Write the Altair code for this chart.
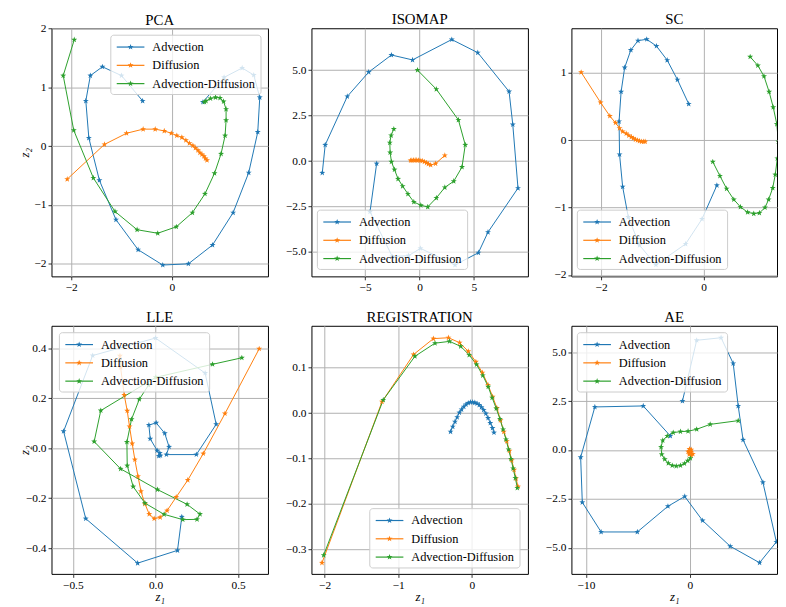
import altair as alt
import pandas as pd

SERIES = ["Advection", "Diffusion", "Advection-Diffusion"]
COLORS = ["#1f77b4", "#ff7f0e", "#2ca02c"]

# ---------------- data ----------------
pca_adv = [(-0.58, 0.77), (-1.00, 1.20), (-1.38, 1.35), (-1.62, 1.20), (-1.71, 0.77), (-1.65, 0.14),
           (-1.44, -0.58), (-1.11, -1.25), (-0.67, -1.76), (-0.18, -2.02), (0.33, -2.00), (0.81, -1.68),
           (1.22, -1.13), (1.53, -0.45), (1.71, 0.24), (1.75, 0.83), (1.63, 1.21), (1.40, 1.33),
           (1.04, 1.17), (0.62, 0.75)]
pca_dif = [(-2.08, -0.56), (-1.34, 0.03), (-0.90, 0.22), (-0.57, 0.29), (-0.33, 0.29), (-0.15, 0.26),
           (-0.01, 0.22), (0.10, 0.18), (0.20, 0.15), (0.28, 0.10), (0.35, 0.05), (0.42, 0.01),
           (0.47, -0.03), (0.52, -0.07), (0.56, -0.11), (0.60, -0.14), (0.64, -0.17), (0.67, -0.21),
           (0.70, -0.24)]
pca_advdif = [(-1.94, 1.81), (-2.16, 1.20), (-1.95, 0.27), (-1.56, -0.54), (-1.13, -1.11), (-0.69, -1.42),
              (-0.28, -1.48), (0.09, -1.37), (0.41, -1.13), (0.66, -0.81), (0.85, -0.46), (0.98, -0.13),
              (1.06, 0.18), (1.08, 0.44), (1.08, 0.63), (1.03, 0.76), (0.96, 0.82), (0.87, 0.83),
              (0.77, 0.81), (0.68, 0.77), (0.65, 0.75)]

iso_adv = [(-3.94, -0.14), (-4.55, -2.79), (-2.5, -5.25), (-1.0, -5.2), (0.09, -4.80), (3.27, -5.71),
           (5.42, -5.04), (6.30, -3.91), (9.06, -1.49), (8.58, 2.01), (8.24, 3.82), (5.36, 5.96),
           (2.97, 6.68), (-0.64, 5.56), (-2.58, 5.83), (-4.67, 4.89), (-6.64, 3.55), (-8.67, 0.89),
           (-8.94, -0.65)]
iso_dif = [(-0.82, 0.03), (-0.70, 0.04), (-0.55, 0.05), (-0.40, 0.05), (-0.25, 0.05), (-0.10, 0.04),
           (0.05, 0.03), (0.25, 0.01), (0.45, -0.04), (0.65, -0.10), (0.82, -0.16), (1.03, -0.22),
           (1.48, -0.14), (2.33, 0.31)]
iso_advdif = [(-0.18, 5.00), (1.55, 3.95), (3.58, 2.26), (4.21, 0.89), (3.91, -0.33), (3.15, -1.11),
              (2.33, -1.45), (1.55, -2.03), (0.76, -2.52), (0.12, -2.43), (-0.52, -2.25), (-1.06, -1.81),
              (-1.55, -1.38), (-1.97, -0.98), (-2.30, -0.47), (-2.58, -0.04), (-2.70, 0.47), (-2.73, 1.01),
              (-2.61, 1.41), (-2.36, 1.76)]

sc_adv = [(-0.29, 0.54), (-0.51, 0.90), (-0.71, 1.19), (-0.92, 1.40), (-1.11, 1.50), (-1.28, 1.48),
          (-1.42, 1.34), (-1.54, 1.08), (-1.61, 0.72), (-1.65, 0.28), (-1.64, -0.21), (-1.58, -0.69),
          (-1.47, -1.14), (-1.25, -1.56), (-0.93, -1.85), (-0.35, -1.54), (-0.03, -1.17), (0.26, -0.67)]
sc_dif = [(-2.39, 1.01), (-2.01, 0.56), (-1.83, 0.36), (-1.72, 0.26), (-1.64, 0.18), (-1.58, 0.13),
          (-1.51, 0.10), (-1.46, 0.07), (-1.41, 0.05), (-1.37, 0.03), (-1.33, 0.01), (-1.29, 0.00),
          (-1.25, -0.01), (-1.21, -0.02), (-1.17, -0.02), (-1.14, -0.02)]
sc_advdif = [(0.18, -0.32), (0.32, -0.53), (0.45, -0.72), (0.59, -0.88), (0.72, -0.99), (0.86, -1.07),
             (0.98, -1.09), (1.09, -1.08), (1.20, -1.00), (1.27, -0.88), (1.35, -0.71), (1.40, -0.51),
             (1.44, -0.27), (1.46, -0.02), (1.43, 0.24), (1.36, 0.49), (1.28, 0.72), (1.18, 0.95),
             (1.06, 1.11), (0.91, 1.24)]

lle_adv = [(0.159, -0.275), (0.133, -0.409), (-0.108, -0.460), (-0.422, -0.282), (-0.556, 0.067),
           (-0.38, 0.37), (0.0, 0.44), (0.30, 0.30), (0.367, 0.095), (0.247, -0.026), (0.066, -0.026),
           (0.082, 0.005), (0.056, 0.059), (0.004, 0.101), (-0.040, 0.092), (-0.032, 0.037),
           (0.010, -0.010), (0.030, -0.030), (0.020, -0.032), (0.026, -0.020)]
lle_dif = [(0.627, 0.397), (0.420, 0.138), (0.289, -0.022), (0.195, -0.128), (0.125, -0.196),
           (0.070, -0.250), (0.028, -0.277), (-0.008, -0.282), (-0.038, -0.264), (-0.064, -0.223),
           (-0.088, -0.173), (-0.106, -0.113), (-0.125, -0.046), (-0.141, 0.018), (-0.157, 0.086),
           (-0.171, 0.149), (-0.189, 0.212), (-0.211, 0.322), (-0.215, 0.369)]
lle_advdif = [(0.522, 0.361), (0.345, 0.335), (0.002, 0.283), (-0.331, 0.150), (-0.371, 0.026),
              (-0.211, -0.083), (0.012, -0.166), (0.191, -0.225), (0.269, -0.264), (0.251, -0.285),
              (0.165, -0.286), (0.052, -0.265), (-0.064, -0.220), (-0.135, -0.154), (-0.171, -0.070),
              (-0.173, 0.024), (-0.145, 0.115), (-0.098, 0.195), (-0.042, 0.252)]

reg_adv = [(-0.29, -0.041), (-0.26, -0.030), (-0.23, -0.019), (-0.20, -0.009), (-0.17, 0.001),
           (-0.14, 0.008), (-0.11, 0.014), (-0.08, 0.019), (-0.05, 0.022), (-0.02, 0.024), (0.01, 0.024),
           (0.04, 0.023), (0.07, 0.021), (0.10, 0.018), (0.13, 0.013), (0.16, 0.007), (0.19, -0.001),
           (0.22, -0.011), (0.25, -0.022), (0.28, -0.033), (0.30, -0.043)]
reg_dif = [(-2.036, -0.330), (-1.221, 0.025), (-0.792, 0.129), (-0.523, 0.164), (-0.318, 0.166),
           (-0.166, 0.155), (-0.049, 0.136), (0.054, 0.113), (0.143, 0.089), (0.219, 0.062),
           (0.282, 0.036), (0.340, 0.011), (0.389, -0.016), (0.434, -0.041), (0.474, -0.062),
           (0.510, -0.083), (0.541, -0.104), (0.573, -0.125), (0.600, -0.144), (0.626, -0.162)]
reg_advdif = [(-2.013, -0.313), (-1.204, 0.029), (-0.774, 0.125), (-0.501, 0.154), (-0.304, 0.158),
              (-0.152, 0.147), (-0.036, 0.128), (0.063, 0.107), (0.148, 0.083), (0.222, 0.058),
              (0.275, 0.034), (0.331, 0.010), (0.381, -0.013), (0.424, -0.036), (0.463, -0.058),
              (0.498, -0.080), (0.531, -0.101), (0.560, -0.122), (0.590, -0.143), (0.617, -0.165)]

ae_adv = [(-1.87, 0.72), (-4.48, 2.25), (-9.14, 2.20), (-10.51, -0.37), (-10.35, -2.67), (-8.54, -4.18),
          (-5.05, -4.18), (-2.10, -2.87), (-0.48, -2.37), (1.24, -3.60), (3.90, -4.91), (6.73, -5.75),
          (8.35, -4.69), (7.05, -1.65), (5.14, 0.52), (4.67, 2.25), (4.19, 4.42), (3.02, 5.73),
          (0.67, 5.60), (-0.70, 2.50)]
ae_dif = [(0.30, -0.20), (0.15, -0.28), (-0.05, -0.22), (-0.15, -0.08), (-0.02, 0.05), (0.15, 0.02),
          (0.12, -0.10), (0.02, -0.12), (0.0, -0.05)]
ae_advdif = [(4.67, 1.50), (1.97, 1.31), (0.67, 1.06), (-0.16, 0.96), (-0.89, 0.94), (-1.59, 0.89),
             (-2.16, 0.72), (-2.60, 0.49), (-2.76, 0.15), (-2.70, -0.22), (-2.41, -0.47), (-2.06, -0.67),
             (-1.68, -0.79), (-1.30, -0.82), (-0.89, -0.79), (-0.51, -0.69), (-0.19, -0.55), (0.06, -0.42)]

# ---------------- styling ----------------
FONT = "Liberation Serif"
H = 251
LEG_W, LEG_H = 152, 60
# five-pointed star marker (custom symbol path, normalised to [-1, 1])
STAR = ("M0,-1L0.235,-0.324L0.951,-0.309L0.38,0.124L0.588,0.809L0,0.4L-0.588,0.809"
        "L-0.38,0.124L-0.951,-0.309L-0.235,-0.324Z")
ONE = pd.DataFrame({"k": [0]})


def legend_box(x0, y0):
    """Matplotlib-style framed legend (line + star handle and label for each series)."""
    one = alt.Chart(ONE)
    layers = [one.mark_rect(fill="white", fillOpacity=0.8, stroke="#cccccc", strokeWidth=1,
                            cornerRadius=3).encode(
        x=alt.value(x0), x2=alt.value(x0 + LEG_W), y=alt.value(y0), y2=alt.value(y0 + LEG_H))]
    for j, (name, col) in enumerate(zip(SERIES, COLORS)):
        yy = y0 + 12 + j * 18.5
        layers.append(one.mark_rule(color=col, strokeWidth=1.2).encode(
            x=alt.value(x0 + 6), x2=alt.value(x0 + 34), y=alt.value(yy)))
        layers.append(one.mark_point(shape=STAR, filled=True, size=40, color=col, opacity=1).encode(
            x=alt.value(x0 + 20), y=alt.value(yy)))
        layers.append(one.mark_text(text=name, align="left", baseline="middle", font=FONT,
                                    fontSize=12.5, color="black").encode(
            x=alt.value(x0 + 42), y=alt.value(yy)))
    return layers


def panel(title, series, xdom, ydom, xvals, yvals, xfmt, yfmt, legpos, width,
          xtitle=False, ytitle=False, toff=1):
    rows = []
    for name, pts in zip(SERIES, series):
        for i, (x, y) in enumerate(pts):
            rows.append({"x": x, "y": y, "series": name, "i": i})
    df = pd.DataFrame(rows)
    if xtitle:
        xaxis = alt.Axis(values=xvals, format=xfmt, title="z\u2081", titleY=23, titleBaseline="middle")
    else:
        xaxis = alt.Axis(values=xvals, format=xfmt, title=None)
    if ytitle:
        yaxis = alt.Axis(values=yvals, format=yfmt, title="z\u2082", titleX=-27,
                         titleY=H / 2, titleAngle=270, titleBaseline="middle")
    else:
        yaxis = alt.Axis(values=yvals, format=yfmt, title=None)
    x = alt.X("x:Q", scale=alt.Scale(domain=xdom, nice=False, zero=False), axis=xaxis)
    y = alt.Y("y:Q", scale=alt.Scale(domain=ydom, nice=False, zero=False), axis=yaxis)
    base = alt.Chart(df)
    lines = base.mark_line(strokeWidth=1, clip=True).encode(
        x=x, y=y,
        stroke=alt.Stroke("series:N", scale=alt.Scale(domain=SERIES, range=COLORS), legend=None),
        order="i:Q", detail="series:N")
    pts = base.mark_point(shape=STAR, filled=True, size=40, opacity=1, clip=True).encode(
        x=x, y=y,
        color=alt.Color("series:N", scale=alt.Scale(domain=SERIES, range=COLORS), legend=None))
    return alt.layer(lines, pts, *legend_box(*legpos)).properties(
        width=width, height=H, title=alt.TitleParams(text=title, offset=toff))


p1 = panel("PCA", [pca_adv, pca_dif, pca_advdif], [-2.393, 1.913], [-2.213, 2.005],
           [-2, 0], [-2, -1, 0, 1, 2], "d", "d", (60, 7), 219, ytitle=True, toff=-5)
p2 = panel("ISOMAP", [iso_adv, iso_dif, iso_advdif], [-9.936, 9.973], [-6.34, 7.30],
           [-5, 0, 5], [-5, -2.5, 0, 2.5, 5], "d", ".1f", (6, 184), 219)
p3 = panel("SC", [sc_adv, sc_dif, sc_advdif], [-2.580, 1.434], [-2.022, 1.664],
           [-2, 0], [-2, -1, 0, 1], "d", "d", (6, 184), 208)
p4 = panel("LLE", [lle_adv, lle_dif, lle_advdif], [-0.629, 0.680], [-0.503, 0.489],
           [-0.5, 0, 0.5], [-0.4, -0.2, 0, 0.2, 0.4], ".1f", ".1f", (8, 7), 219,
           xtitle=True, ytitle=True)
p5 = panel("REGISTRATION", [reg_adv, reg_dif, reg_advdif], [-2.179, 0.761], [-0.3543, 0.1923],
           [-2, -1, 0], [-0.3, -0.2, -0.1, 0, 0.1], "d", ".1f", (59, 185), 219, xtitle=True)
p6 = panel("AE", [ae_adv, ae_dif, ae_advdif], [-11.40, 8.41], [-6.32, 6.34],
           [-10, 0], [-5, -2.5, 0, 2.5, 5], "d", ".1f", (6, 7), 208, xtitle=True)

chart = alt.concat(p1, p2, p3, p4, p5, p6, columns=3, spacing={"row": 50, "column": 44},
                   bounds="flush").properties(
    padding={"left": 10, "top": 0, "right": 0, "bottom": 0}
).configure_view(
    stroke="black", strokeWidth=1
).configure_axis(
    grid=True, gridColor="#b0b0b0", gridWidth=1, domain=False,
    tickColor="black", tickSize=3.5, tickWidth=0.8,
    labelFont=FONT, labelFontSize=11.5, labelColor="black", labelPadding=2,
    titleFont=FONT, titleFontSize=13, titleFontStyle="italic", titleFontWeight="normal",
    titleColor="black"
).configure_title(
    font=FONT, fontSize=15, fontWeight="normal", color="black", anchor="middle",
    baseline="top"
)

chart.save("out.html", embed_options={"renderer": "svg", "actions": False})
